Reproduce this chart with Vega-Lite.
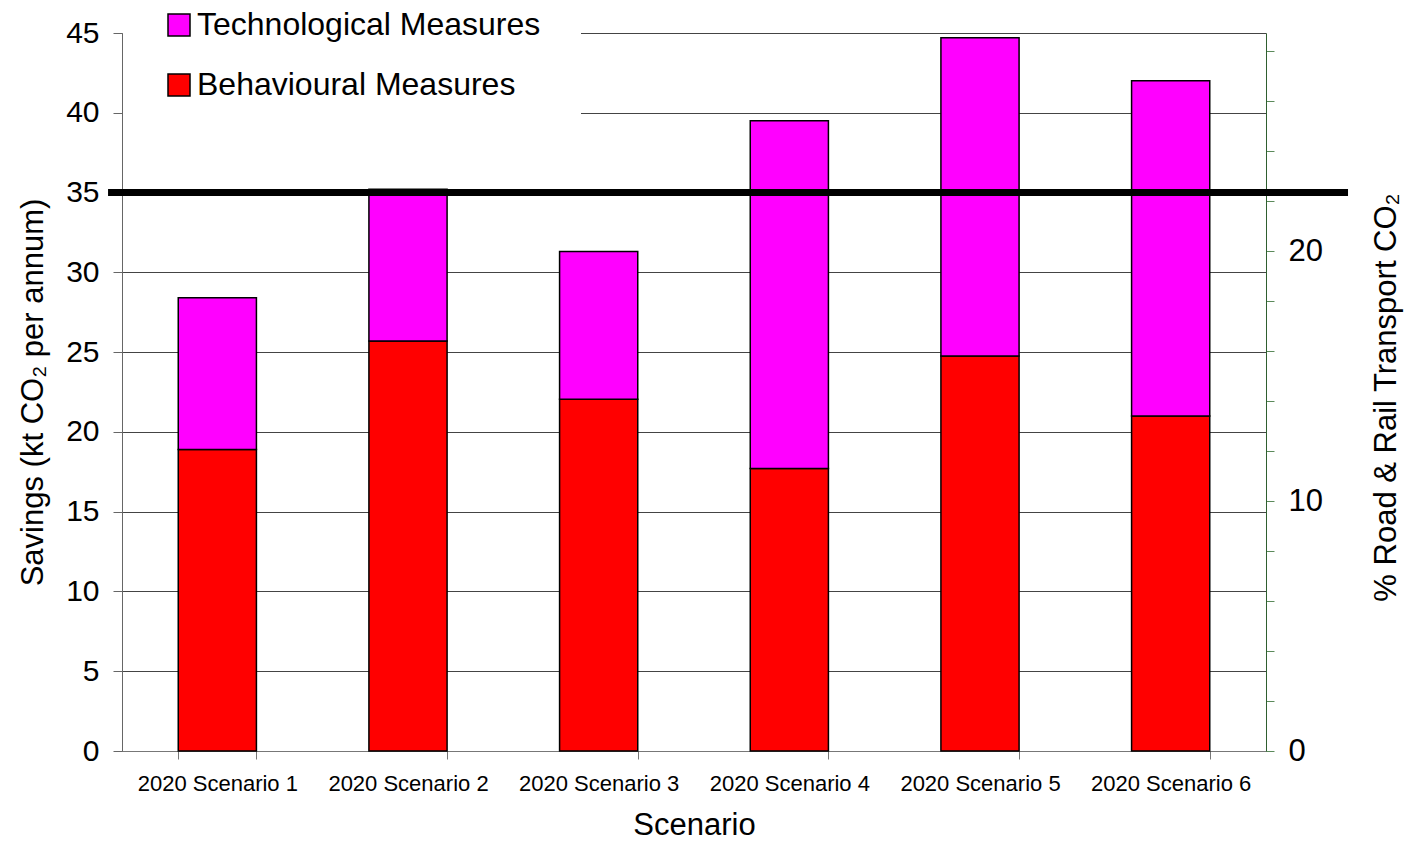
{
  "$schema": "https://vega.github.io/schema/vega-lite/v6.json",
  "width": 1144,
  "height": 718,
  "autosize": {"type": "none"},
  "padding": {"left": 122, "top": 33, "right": 139, "bottom": 90},
  "background": "white",
  "config": {
    "view": {"stroke": null},
    "font": "Liberation Sans",
    "axis": {"labelFont": "Liberation Sans", "titleFont": "Liberation Sans", "labelColor": "black", "titleColor": "black", "titleFontWeight": "normal"},
    "legend": {"labelFont": "Liberation Sans"}
  },
  "layer": [
    {
      "data": {
        "values": [
          {"scenario": "2020 Scenario 1", "measure": "Behavioural Measures", "value": 18.9},
          {"scenario": "2020 Scenario 1", "measure": "Technological Measures", "value": 9.5},
          {"scenario": "2020 Scenario 2", "measure": "Behavioural Measures", "value": 25.7},
          {"scenario": "2020 Scenario 2", "measure": "Technological Measures", "value": 9.5},
          {"scenario": "2020 Scenario 3", "measure": "Behavioural Measures", "value": 22.05},
          {"scenario": "2020 Scenario 3", "measure": "Technological Measures", "value": 9.25},
          {"scenario": "2020 Scenario 4", "measure": "Behavioural Measures", "value": 17.7},
          {"scenario": "2020 Scenario 4", "measure": "Technological Measures", "value": 21.8},
          {"scenario": "2020 Scenario 5", "measure": "Behavioural Measures", "value": 24.75},
          {"scenario": "2020 Scenario 5", "measure": "Technological Measures", "value": 19.95},
          {"scenario": "2020 Scenario 6", "measure": "Behavioural Measures", "value": 21.0},
          {"scenario": "2020 Scenario 6", "measure": "Technological Measures", "value": 21.0}
        ]
      },
      "mark": {"type": "bar", "stroke": "black", "strokeWidth": 1.5},
      "encoding": {
        "x": {
          "field": "scenario", "type": "nominal", "sort": null,
          "scale": {"paddingInner": 0.59, "paddingOuter": 0.295},
          "axis": {"title": "Scenario", "labelAngle": 0, "labelFontSize": 22, "titleFontSize": 31, "tickBand": "extent", "tickSize": 8, "tickColor": "#777777", "domainColor": "#777777", "labelPadding": 14, "titlePadding": 16, "grid": false}
        },
        "y": {
          "field": "value", "type": "quantitative", "stack": "zero",
          "scale": {"domain": [0, 45], "nice": false},
          "axis": {"orient": "left", "title": "Savings (kt CO₂ per annum)", "values": [0, 5, 10, 15, 20, 25, 30, 35, 40, 45], "grid": true, "gridColor": "#444444", "gridWidth": 1, "labelFontSize": 30, "titleFontSize": 31, "tickSize": 9, "tickColor": "#666666", "domainColor": "#666666", "labelPadding": 14, "titlePadding": 16}
        },
        "color": {
          "field": "measure", "type": "nominal",
          "scale": {"domain": ["Technological Measures", "Behavioural Measures"], "range": ["#FF00FF", "#FF0000"]},
          "legend": {"title": null, "orient": "none", "legendX": 1, "legendY": -64, "fillColor": "white", "padding": 40, "symbolType": "square", "symbolSize": 484, "symbolStrokeColor": "black", "symbolStrokeWidth": 1.5, "labelFontSize": 32, "labelOffset": 2, "rowPadding": 28, "labelLimit": 1000, "zindex": 2}
        },
        "order": {"field": "measure", "sort": "ascending"}
      }
    },
    {
      "data": {"values": [{"target": 35}]},
      "mark": {"type": "rule", "strokeWidth": 7, "color": "black"},
      "encoding": {
        "y": {"field": "target", "type": "quantitative", "scale": {"domain": [0, 45], "nice": false}, "axis": null},
        "x": {"datum": -0.0122, "type": "quantitative", "scale": {"domain": [0, 1], "nice": false, "zero": false}, "axis": null},
        "x2": {"datum": 1.0717}
      }
    },
    {
      "data": {"values": [{"pct": 0}]},
      "mark": {"type": "point", "opacity": 0},
      "encoding": {
        "y": {
          "field": "pct", "type": "quantitative",
          "scale": {"domain": [0, 28.72], "nice": false},
          "axis": {"orient": "right", "title": "% Road & Rail Transport CO₂", "titleAngle": -90, "titleAlign": "center", "titleBaseline": "middle", "titleX": 120, "titleY": 364, "values": [0, 2, 4, 6, 8, 10, 12, 14, 16, 18, 20, 22, 24, 26, 28], "labelExpr": "datum.value % 10 === 0 ? datum.label : ''", "grid": false, "tickSize": 8, "tickColor": "#5B8A5B", "domainColor": "#2F5F2F", "labelFontSize": 31, "titleFontSize": 31, "labelPadding": 14}
        }
      }
    }
  ],
  "resolve": {"scale": {"x": "independent", "y": "independent"}, "axis": {"x": "independent", "y": "independent"}}
}
